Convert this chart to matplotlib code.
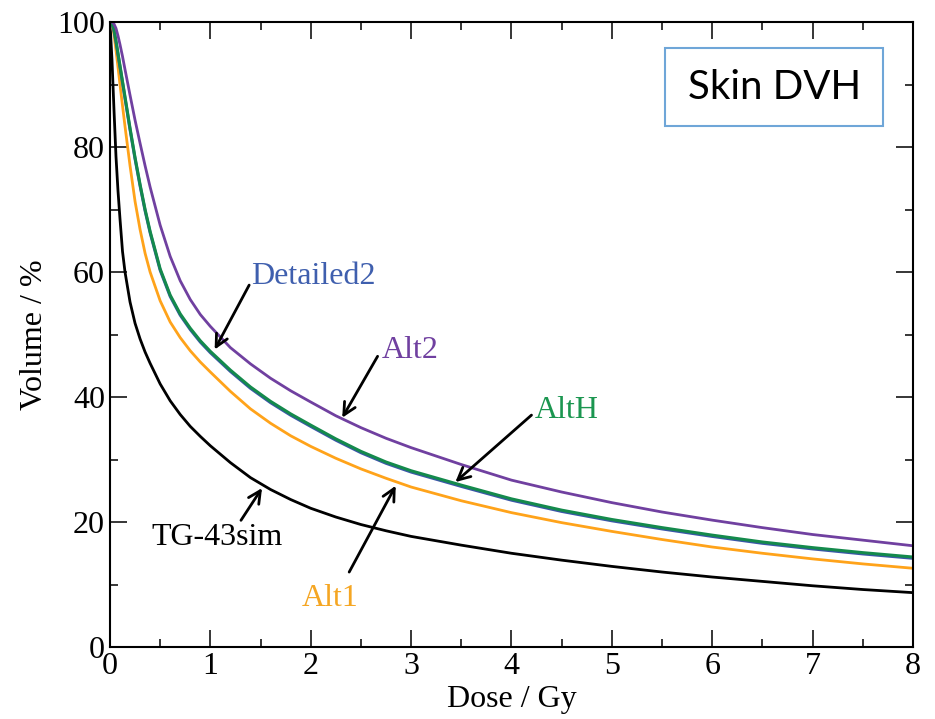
import matplotlib.pyplot as plt
from matplotlib.patches import Rectangle

dose = [0, 0.02, 0.04, 0.06, 0.08, 0.1, 0.125, 0.15, 0.2, 0.25, 0.3, 0.35, 0.4,
        0.5, 0.6, 0.7, 0.8, 0.9, 1.0, 1.2, 1.4, 1.6, 1.8, 2.0, 2.25, 2.5, 2.75, 3.0,
        3.5, 4, 4.5, 5, 5.5, 6, 6.5, 7, 7.5, 8]

tg43sim = [100, 94, 86, 78.5, 73, 68.5, 63.3, 60, 55.2, 51.8, 49.3, 47.2, 45.4,
           42.1, 39.4, 37.2, 35.3, 33.7, 32.2, 29.5, 27.1, 25.2, 23.6, 22.2, 20.8, 19.6, 18.6, 17.7,
           16.3, 15.0, 13.9, 12.9, 12.0, 11.2, 10.5, 9.8, 9.2, 8.7]
alt1 = [100, 99.7, 98, 95.5, 92.8, 90, 86.6, 83.3, 77.0, 71.3, 66.8, 63.0, 60.0,
        55.4, 52.0, 49.5, 47.4, 45.6, 44.0, 40.9, 38.1, 35.8, 33.8, 32.1, 30.2, 28.5, 27.0, 25.6,
        23.4, 21.5, 19.9, 18.5, 17.2, 16.0, 15.0, 14.1, 13.3, 12.6]
altH = [100, 99.8, 98.8, 97.0, 95.0, 93.0, 90.5, 88.0, 83.0, 78.3, 74.0, 70.0, 66.5,
        60.5, 56.3, 53.3, 51.0, 49.0, 47.3, 44.3, 41.6, 39.3, 37.3, 35.5, 33.3, 31.3, 29.6, 28.2,
        25.9, 23.7, 21.9, 20.4, 19.1, 17.9, 16.8, 15.9, 15.1, 14.4]
detailed2 = [100, 99.7, 98.6, 96.8, 94.8, 92.8, 90.3, 87.8, 82.8, 78.1, 73.8, 69.8, 66.3,
             60.3, 56.1, 53.1, 50.8, 48.8, 47.1, 44.1, 41.4, 39.1, 37.1, 35.3, 33.1, 31.1, 29.4, 28.0,
             25.7, 23.5, 21.7, 20.2, 18.9, 17.7, 16.6, 15.7, 14.9, 14.2]
alt2 = [100, 100, 99.7, 99.0, 97.8, 96.4, 94.5, 92.4, 88.3, 84.3, 80.6, 77.0, 73.6,
        67.5, 62.5, 58.6, 55.6, 53.2, 51.3, 47.9, 45.3, 43.0, 41.0, 39.2, 37.0, 35.1, 33.4, 31.9,
        29.2, 26.7, 24.8, 23.1, 21.6, 20.3, 19.1, 18.0, 17.1, 16.2]

plt.rcParams['font.family'] = ['Liberation Serif', 'DejaVu Serif']

fig = plt.figure(figsize=(9.35, 7.19), dpi=100)
ax = fig.add_axes([0.1176, 0.1001, 0.8589, 0.8693])

ax.plot(dose, tg43sim, color='black', lw=2)
ax.plot(dose, alt1, color='#ffa31a', lw=2)
ax.plot(dose, detailed2, color='#3b56a8', lw=2.2)
ax.plot(dose, altH, color='#148a4c', lw=2.2)
ax.plot(dose, alt2, color='#7040a0', lw=2)

ax.set_xlim(0, 8)
ax.set_ylim(0, 100)
ax.set_xticks(range(0, 9))
ax.set_xticks([i + 0.5 for i in range(8)], minor=True)
ax.set_yticks(range(0, 101, 20))
ax.set_yticks(range(10, 100, 20), minor=True)
ax.tick_params(which='both', direction='in', top=True, right=True, labelsize=23, width=1.1)
ax.tick_params(which='major', length=12)
ax.tick_params(which='minor', length=6)
for s in ax.spines.values():
    s.set_linewidth(1.5)

ax.set_xlabel('Dose / Gy', fontsize=23, labelpad=3)
ax.set_ylabel('Volume / %', fontsize=23, labelpad=6)

# curve labels with arrows
arrow = dict(arrowstyle='->', color='black', lw=2, mutation_scale=22)
ax.annotate('', xy=(1.03, 47.2), xytext=(1.40, 58.3), arrowprops=arrow)
ax.text(1.41, 59.3, 'Detailed2', color='#3f5fae', fontsize=23, ha='left', va='center')
ax.annotate('', xy=(2.3, 36.3), xytext=(2.68, 46.9), arrowprops=arrow)
ax.text(2.71, 47.5, 'Alt2', color='#7040a0', fontsize=23, ha='left', va='center')
ax.annotate('', xy=(3.42, 26.1), xytext=(4.22, 37.4), arrowprops=arrow)
ax.text(4.23, 37.9, 'AltH', color='#1b9650', fontsize=23, ha='left', va='center')
ax.annotate('', xy=(1.53, 25.8), xytext=(1.29, 19.9), arrowprops=arrow)
ax.text(1.07, 17.6, 'TG-43sim', color='black', fontsize=23, ha='center', va='center')
ax.annotate('', xy=(2.86, 26.2), xytext=(2.37, 11.6), arrowprops=arrow)
ax.text(2.19, 7.8, 'Alt1', color='#f5a623', fontsize=23, ha='center', va='center')

# title box
ax.add_patch(Rectangle((0.691, 0.834), 0.272, 0.124, transform=ax.transAxes,
                       fill=False, edgecolor='#6fa6d8', lw=1.5))
ax.text(0.827, 0.896, 'Skin DVH', transform=ax.transAxes, fontsize=29,
        family=['Lato', 'DejaVu Sans'], ha='center', va='center')

fig.savefig('out.png', dpi=100)
